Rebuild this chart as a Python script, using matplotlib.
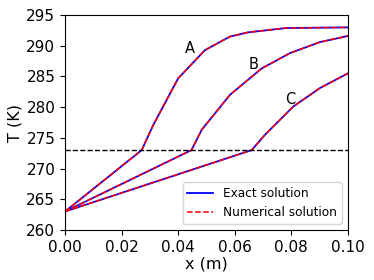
import matplotlib
matplotlib.use('Agg')
import matplotlib.pyplot as plt

# curve profiles (x in m, T in K)
x_a = [0.0, 0.0271, 0.0312, 0.0400, 0.0495, 0.0583, 0.0648, 0.0783, 0.1]
t_a = [263.0, 273.0, 277.1, 284.7, 289.3, 291.5, 292.2, 292.9, 293.0]

x_b = [0.0, 0.0447, 0.0483, 0.0583, 0.0695, 0.0795, 0.0901, 0.1]
t_b = [263.0, 273.0, 276.3, 282.0, 286.3, 288.8, 290.6, 291.6]

x_c = [0.0, 0.0660, 0.0707, 0.0807, 0.0901, 0.1]
t_c = [263.0, 273.0, 275.5, 280.1, 283.1, 285.5]

t_melt = 273.0

labels = ['A', 'B', 'C']
label_x = [0.0442, 0.0665, 0.0795]
label_t = [289.5, 286.9, 281.2]

xticks = [0.0, 0.02, 0.04, 0.06, 0.08, 0.1]
xtick_labels = ['0.00', '0.02', '0.04', '0.06', '0.08', '0.10']
yticks = [260, 265, 270, 275, 280, 285, 290, 295]

fig = plt.figure(figsize=(3.74, 2.80), dpi=100)
ax = fig.add_axes([0.174, 0.179, 0.756, 0.767])

curves = [(x_a, t_a), (x_b, t_b), (x_c, t_c)]
for i, (x, t) in enumerate(curves):
    ax.plot(x, t, color='b', lw=1.3, label='Exact solution' if i == 0 else None)
for i, (x, t) in enumerate(curves):
    ax.plot(x, t, color='r', lw=1.1, ls='--', label='Numerical solution' if i == 0 else None)

ax.axhline(t_melt, color='k', ls='--', lw=1)

for lab, lx, lt in zip(labels, label_x, label_t):
    ax.text(lx, lt, lab, fontsize=10.5, ha='center', va='center')

ax.set_xlim(0, 0.1)
ax.set_ylim(260, 295)
ax.set_xticks(xticks)
ax.set_xticklabels(xtick_labels)
ax.set_yticks(yticks)
ax.tick_params(labelsize=11)
ax.set_xlabel('x (m)', fontsize=11.5, labelpad=1.5)
ax.set_ylabel('T (K)', fontsize=11.5, labelpad=3)
ax.legend(loc='lower right', fontsize=8.7, handlelength=2.15)

fig.savefig('out.png', dpi=100)
